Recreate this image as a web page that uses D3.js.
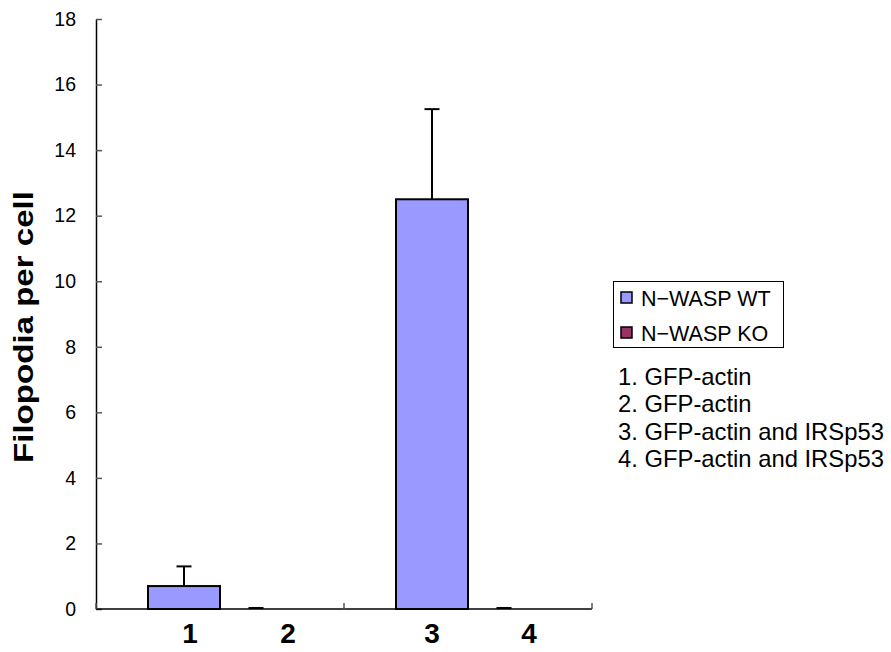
<!DOCTYPE html>
<html>
<head>
<meta charset="utf-8">
<script src="https://cdn.jsdelivr.net/npm/d3@7"></script>
<style>
  html, body { margin: 0; padding: 0; background: #fff; }
  svg { display: block; font-family: "Liberation Sans", Arial, sans-serif; }
</style>
</head>
<body>
<svg id="chart" width="891" height="652"></svg>
<script>
// ---- data ----
const groups = ["A", "B"];
const seriesNames = ["N\u2212WASP WT", "N\u2212WASP KO"];
const seriesColors = ["#9999FF", "#993366"];
const wtValues = [0.7, 12.5];
const wtErrors = [0.6, 2.75];
const koValues = [0, 0];
const koErrors = [0, 0];
const barLabels = ["1", "2", "3", "4"];
const yTicks = [0, 2, 4, 6, 8, 10, 12, 14, 16, 18];
const notes = ["1. GFP-actin", "2. GFP-actin", "3. GFP-actin and IRSp53", "4. GFP-actin and IRSp53"];
const yTitle = "Filopodia per cell";

// ---- layout ----
const svg = d3.select("#chart");
const mLeft = 96, mRight = 592, mTop = 19, mBottom = 609;

const x0 = d3.scaleBand().domain(groups).range([mLeft, mRight]).paddingInner(0).paddingOuter(0);
const x1 = d3.scaleBand().domain([0, 1]).range([52, x0.bandwidth() - 52]).padding(0);
const y = d3.scaleLinear().domain([0, 18]).range([mBottom, mTop]);

const bars = [];
groups.forEach((g, gi) => {
  bars.push({ g, s: 0, v: wtValues[gi], e: wtErrors[gi] });
  bars.push({ g, s: 1, v: koValues[gi], e: koErrors[gi] });
});

// y axis
const yAxis = d3.axisLeft(y).tickValues(yTicks).tickSizeInner(-6).tickSizeOuter(0).tickPadding(20);
const yg = svg.append("g").attr("transform", `translate(${mLeft},0)`).call(yAxis);
yg.select(".domain").attr("stroke", "#000").attr("stroke-width", 1.5);
yg.selectAll(".tick line").attr("stroke", "#555").attr("stroke-width", 1.5);
yg.selectAll(".tick text").attr("font-size", 19.5).attr("fill", "#000")
  .attr("font-family", "'Liberation Sans', Arial, sans-serif");

// bars
const bg = svg.append("g");
bg.selectAll("rect").data(bars.filter(d => d.v > 0)).join("rect")
  .attr("x", d => x0(d.g) + x1(d.s))
  .attr("y", d => y(d.v))
  .attr("width", x1.bandwidth())
  .attr("height", d => y(0) - y(d.v))
  .attr("fill", d => seriesColors[d.s])
  .attr("stroke", "#000").attr("stroke-width", 2);

// error bars
const eg = svg.append("g").attr("stroke", "#000").attr("stroke-width", 2);
bars.forEach(d => {
  const cx = x0(d.g) + x1(d.s) + x1.bandwidth() / 2;
  if (d.e > 0) {
    eg.append("line").attr("x1", cx).attr("x2", cx).attr("y1", y(d.v)).attr("y2", y(d.v + d.e));
  }
  const cy = y(d.v + d.e) - (d.e === 0 ? 1 : 0);
  eg.append("line").attr("x1", cx - 7.5).attr("x2", cx + 7.5).attr("y1", cy).attr("y2", cy);
});

// x axis
svg.append("line").attr("x1", mLeft).attr("x2", mRight).attr("y1", y(0)).attr("y2", y(0))
  .attr("stroke", "#000").attr("stroke-width", 1.5);
const bounds = groups.map(g => x0(g)).concat([mRight]);
svg.append("g").selectAll("line").data(bounds).join("line")
  .attr("x1", d => d).attr("x2", d => d).attr("y1", y(0)).attr("y2", y(0) - 6)
  .attr("stroke", "#555").attr("stroke-width", 1.5);

// bar labels (placed as a fraction of each group's band)
const labelFrac = [0.379, 0.774, 0.355, 0.746];
svg.append("g").selectAll("text").data(barLabels).join("text")
  .attr("x", (d, i) => x0(groups[Math.floor(i / 2)]) + x0.bandwidth() * labelFrac[i])
  .attr("y", 643)
  .attr("text-anchor", "middle")
  .attr("font-size", 28).attr("font-weight", "bold")
  .text(d => d);

// y title
svg.append("text")
  .attr("transform", `translate(33,${(mTop + mBottom) / 2 + 13}) rotate(-90)`)
  .attr("text-anchor", "middle")
  .attr("font-size", 28).attr("font-weight", "bold")
  .attr("textLength", 272).attr("lengthAdjust", "spacingAndGlyphs")
  .text(yTitle);

// legend
const lg = svg.append("g");
lg.append("rect").attr("x", 613.5).attr("y", 281.5).attr("width", 170).attr("height", 66)
  .attr("fill", "#fff").attr("stroke", "#000").attr("stroke-width", 1);
seriesNames.forEach((n, i) => {
  const cy = 298 + i * 35;
  lg.append("rect").attr("x", 621).attr("y", cy - 6).attr("width", 11).attr("height", 11)
    .attr("fill", seriesColors[i]).attr("stroke", "#000").attr("stroke-width", 1.5);
  lg.append("text").attr("x", 641).attr("y", cy + 8).attr("font-size", 21.5).text(n);
});

// notes
svg.append("g").selectAll("text").data(notes).join("text")
  .attr("x", 618).attr("y", (d, i) => 385 + i * 27.3)
  .attr("font-size", 23.8).text(d => d);
</script>
</body>
</html>
